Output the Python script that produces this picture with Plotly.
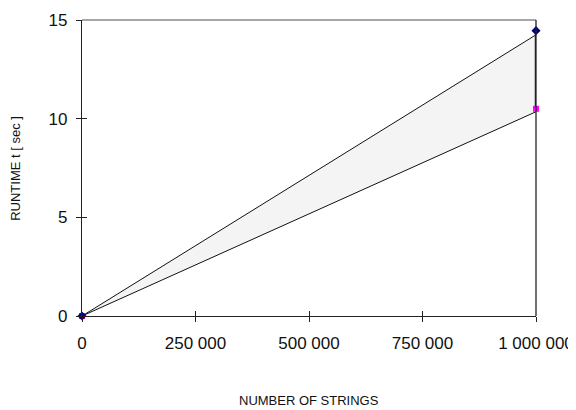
import plotly.graph_objects as go

# data
x_strings = [0, 1000000]
upper_runtime = [0, 14.46]
lower_runtime = [0, 10.5]
upper_fit = [0, 14.25]
lower_fit = [0, 10.35]
x_ticks = [0, 250000, 500000, 750000, 1000000]
x_ticklabels = ["0", "250 000", "500 000", "750 000", "1 000 000"]
y_ticks = [0, 5, 10, 15]

FONT = "Liberation Sans, Arial, sans-serif"

fig = go.Figure()

# fitted lines with fill between
fig.add_trace(go.Scatter(x=x_strings, y=lower_fit, mode="lines",
                         line=dict(color="#111111", width=1), showlegend=False))
fig.add_trace(go.Scatter(x=x_strings, y=upper_fit, mode="lines",
                         line=dict(color="#111111", width=1), fill="tonexty",
                         fillcolor="#f4f4f4", showlegend=False))
# vertical connector between end markers
fig.add_trace(go.Scatter(x=[x_strings[1], x_strings[1]],
                         y=[lower_runtime[1], upper_runtime[1]], mode="lines",
                         line=dict(color="#222222", width=2.5), showlegend=False))
# markers
fig.add_trace(go.Scatter(x=x_strings, y=lower_runtime, mode="markers",
                         marker=dict(symbol="square", size=6, color="#ff00ff"),
                         showlegend=False, cliponaxis=False))
fig.add_trace(go.Scatter(x=x_strings, y=upper_runtime, mode="markers",
                         marker=dict(symbol="diamond", size=7, color="#000080"),
                         showlegend=False, cliponaxis=False))

axis_common = dict(showgrid=False, zeroline=False, showline=True,
                   linecolor="#222222", linewidth=1.3, ticks="outside",
                   ticklen=5, tickcolor="#222222", tickwidth=1,
                   tickfont=dict(family=FONT, size=17, color="#111111"))

fig.update_layout(
    width=568, height=402,
    margin=dict(l=74, r=40, t=12, b=94, autoexpand=False),
    paper_bgcolor="white", plot_bgcolor="white",
    xaxis=dict(range=[0, 1000000], tickvals=x_ticks, ticktext=x_ticklabels,
               ticklabelstandoff=6, **axis_common),
    yaxis=dict(range=[0, 15], tickvals=y_ticks, ticklabelstandoff=5,
               **axis_common),
    # inside ticks overlays
    xaxis2=dict(range=[0, 1000000], tickvals=x_ticks, overlaying="x",
                anchor="y", side="bottom", showticklabels=False, ticks="inside",
                ticklen=5, tickcolor="#222222", showgrid=False, zeroline=False,
                showline=False),
    yaxis2=dict(range=[0, 15], tickvals=y_ticks, overlaying="y",
                anchor="x", side="left", showticklabels=False, ticks="inside",
                ticklen=5, tickcolor="#222222", showgrid=False, zeroline=False,
                showline=False),
    shapes=[
        dict(type="line", xref="paper", yref="paper", x0=0, x1=1, y0=1, y1=1,
             line=dict(color="#888888", width=1.3)),
        dict(type="line", xref="paper", yref="paper", x0=1, x1=1, y0=0, y1=1,
             line=dict(color="#222222", width=1.3)),
    ],
    annotations=[
        dict(text="NUMBER OF STRINGS", xref="paper", yref="paper",
             x=0.5, y=-0.287, xanchor="center", yanchor="middle",
             showarrow=False, font=dict(family=FONT, size=13, color="#111111")),
        dict(text="RUNTIME t [ sec ]", xref="paper", yref="paper",
             x=-0.148, y=0.5, xanchor="center", yanchor="middle", textangle=-90,
             showarrow=False, font=dict(family=FONT, size=13, color="#111111")),
    ],
)
# dummy trace to activate overlay axes
fig.add_trace(go.Scatter(x=[None], y=[None], xaxis="x2", yaxis="y2",
                         showlegend=False, hoverinfo="skip"))

fig.write_html("out.html")
